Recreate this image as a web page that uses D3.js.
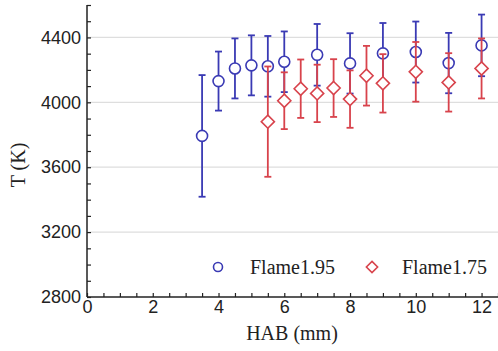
<!DOCTYPE html>
<html><head><meta charset="utf-8">
<script src="https://cdn.jsdelivr.net/npm/d3@7"></script>
<style>body{margin:0;background:#fff}svg{display:block}</style>
</head><body>
<script>
const xA = [3.5, 4, 4.5, 5, 5.5, 6, 7, 8, 9, 10, 11, 12];
const yA = [3793, 4131, 4209, 4228, 4222, 4250, 4293, 4240, 4302, 4310, 4242, 4351];
const eA = [375, 182, 185, 185, 187, 187, 190, 186, 187, 188, 186, 190];
const xB = [5.5, 6, 6.5, 7, 7.5, 8, 8.5, 9, 10, 11, 12];
const yB = [3881, 4010, 4084, 4055, 4088, 4020, 4164, 4117, 4188, 4123, 4209];
const eB = [340, 175, 180, 177, 178, 177, 184, 180, 184, 180, 185];
const xTicks = [0, 2, 4, 6, 8, 10, 12];
const yTicks = [2800, 3200, 3600, 4000, 4400];
const seriesNames = ["Flame1.95", "Flame1.75"];

const W = 498, H = 351;
const svg = d3.select("body").append("svg").attr("width", W).attr("height", H);
const x = d3.scaleLinear().domain([0, 12.5]).range([87, 498]);
const y = d3.scaleLinear().domain([2800, 4600]).range([297, 5]);
const blue = "#3a3ab4", red = "#d8434c";
const sans = "Liberation Sans, Arial, sans-serif";
const serif = "Liberation Serif, Times New Roman, serif";

// grid
svg.append("g").selectAll("line").data(yTicks.slice(1)).join("line")
  .attr("x1", 88).attr("x2", W).attr("y1", d => y(d)).attr("y2", d => y(d))
  .attr("stroke", "#dedede").attr("stroke-width", 1.2);

// y axis
const yMinor = d3.range(2800, 4601, 100);
const ga = svg.append("g").attr("transform", "translate(87,0)")
  .call(d3.axisLeft(y).tickValues(yMinor).tickSize(-4).tickFormat(d => yTicks.includes(d) ? d : ""));
ga.select(".domain").attr("stroke", "#222").attr("stroke-width", 1.5).attr("d", `M0,${y(4600)}V${y(2800)}`);
ga.selectAll(".tick line").attr("stroke", "#222").attr("stroke-width", 1.2);
ga.selectAll(".tick text").attr("x", -6).attr("font-family", sans).attr("font-size", 18).attr("fill", "#222");

// x axis
const xMinor = d3.range(0, 12.51, 0.5);
const gx = svg.append("g").attr("transform", `translate(0,${y(2800)})`)
  .call(d3.axisBottom(x).tickValues(xMinor).tickSize(-4).tickFormat(d => xTicks.includes(d) ? d : ""));
gx.select(".domain").attr("stroke", "#222").attr("stroke-width", 1.5).attr("d", `M${x(0)},0H${W}`);
gx.selectAll(".tick line").attr("stroke", "#222").attr("stroke-width", 1.2);
gx.selectAll(".tick text").attr("y", 3).attr("font-family", sans).attr("font-size", 18).attr("fill", "#222");

// labels
svg.append("text").attr("transform", `translate(25,165) rotate(-90)`).attr("text-anchor", "middle")
  .attr("font-family", serif).attr("font-size", 20).attr("fill", "#222").text("T (K)");
svg.append("text").attr("x", 292).attr("y", 340).attr("text-anchor", "middle")
  .attr("font-family", serif).attr("font-size", 20).attr("fill", "#222").text("HAB (mm)");

function errbars(xs, ys, es, col) {
  const g = svg.append("g").attr("stroke", col).attr("stroke-width", 1.8).attr("fill", "none");
  xs.forEach((xv, i) => {
    const cx = x(xv), t = y(ys[i] + es[i]), b = y(ys[i] - es[i]);
    g.append("line").attr("x1", cx).attr("x2", cx).attr("y1", t).attr("y2", b);
    g.append("line").attr("x1", cx - 3.5).attr("x2", cx + 3.5).attr("y1", t).attr("y2", t);
    g.append("line").attr("x1", cx - 3.5).attr("x2", cx + 3.5).attr("y1", b).attr("y2", b);
  });
}
errbars(xA, yA, eA, blue);
svg.append("g").selectAll("circle").data(xA).join("circle")
  .attr("cx", d => x(d)).attr("cy", (d, i) => y(yA[i])).attr("r", 5.5)
  .attr("fill", "#fff").attr("stroke", blue).attr("stroke-width", 1.6);
errbars(xB, yB, eB, red);
const dia = d3.symbol().type(d3.symbolDiamond2).size(110);
svg.append("g").selectAll("path").data(xB).join("path")
  .attr("d", dia).attr("transform", (d, i) => `translate(${x(d)},${y(yB[i])})`)
  .attr("fill", "#fff").attr("stroke", red).attr("stroke-width", 1.6);

// legend
const ly = 267;
svg.append("circle").attr("cx", 218).attr("cy", ly).attr("r", 4.5).attr("fill", "#fff").attr("stroke", blue).attr("stroke-width", 1.6);
svg.append("text").attr("x", 250).attr("y", ly + 7).attr("font-family", serif)
  .attr("font-size", 20).attr("fill", "#222").text(seriesNames[0]);
svg.append("path").attr("d", d3.symbol().type(d3.symbolDiamond2).size(80)).attr("transform", `translate(372,${ly})`)
  .attr("fill", "#fff").attr("stroke", red).attr("stroke-width", 1.6);
svg.append("text").attr("x", 402).attr("y", ly + 7).attr("font-family", serif)
  .attr("font-size", 20).attr("fill", "#222").text(seriesNames[1]);
</script>
</body></html>
